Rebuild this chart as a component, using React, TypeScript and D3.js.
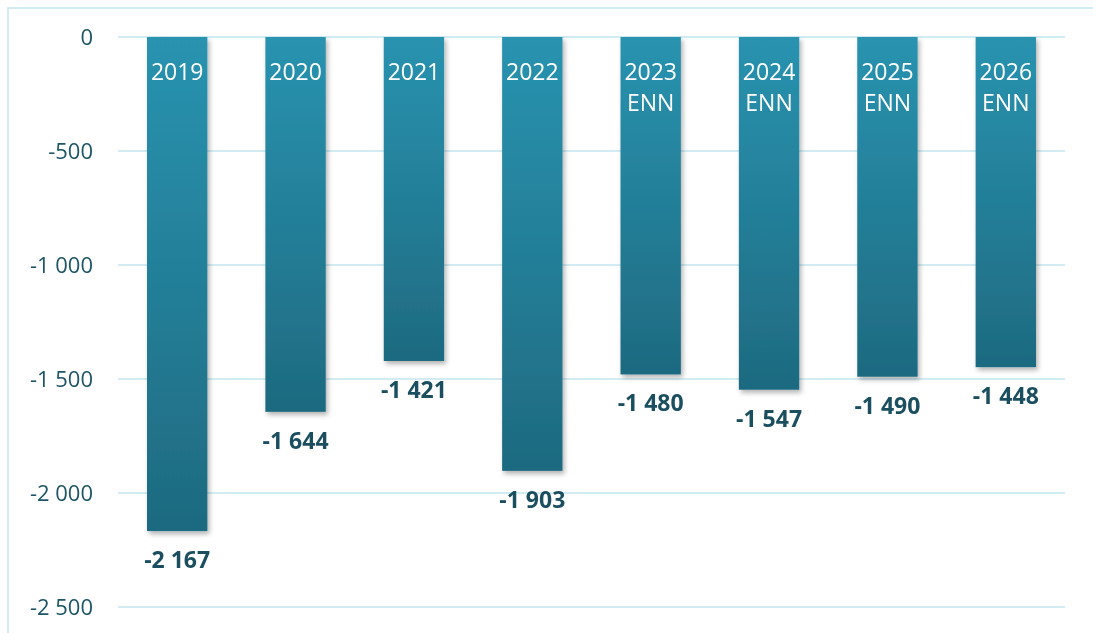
import { useEffect, useRef } from "react";
import * as d3 from "d3";

const categories = ["2019", "2020", "2021", "2022", "2023", "2024", "2025", "2026"];
const subLabels = ["", "", "", "", "ENN", "ENN", "ENN", "ENN"];
const values = [-2167, -1644, -1421, -1903, -1480, -1547, -1490, -1448];
const yTicks = [0, -500, -1000, -1500, -2000, -2500];

const fmt = (v: number) => {
  const s = Math.abs(v).toString().replace(/\B(?=(\d{3})+(?!\d))/g, " ");
  return (v < 0 ? "-" : "") + s;
};

export default function App() {
  const svgRef = useRef<SVGSVGElement>(null);

  useEffect(() => {
    if (!svgRef.current) return;
    const width = 1093;
    const height = 633;
    const margin = { top: 37, left: 118, right: 28, bottom: 26 };

    const svg = d3.select(svgRef.current);
    svg.selectAll("*").remove();

    const defs = svg.append("defs");
    const grad = defs
      .append("linearGradient")
      .attr("id", "barGrad")
      .attr("x1", 0)
      .attr("y1", 0)
      .attr("x2", 0)
      .attr("y2", 1);
    grad.append("stop").attr("offset", "0%").attr("stop-color", "#2993b0");
    grad.append("stop").attr("offset", "100%").attr("stop-color", "#1e6a80");

    const filter = defs
      .append("filter")
      .attr("id", "shadow")
      .attr("x", "-20%")
      .attr("y", "-5%")
      .attr("width", "150%")
      .attr("height", "120%");
    filter
      .append("feDropShadow")
      .attr("dx", 2)
      .attr("dy", 3)
      .attr("stdDeviation", 2.5)
      .attr("flood-color", "#000")
      .attr("flood-opacity", 0.3);

    // Outer frame (only top and left edges are visible)
    svg
      .append("rect")
      .attr("x", 8)
      .attr("y", 8)
      .attr("width", width + 20)
      .attr("height", height + 20)
      .attr("fill", "none")
      .attr("stroke", "#d3ecf4")
      .attr("stroke-width", 2);

    const x = d3
      .scaleBand()
      .domain(categories)
      .range([margin.left, width - margin.right])
      .paddingInner(0.49)
      .paddingOuter(0.245);

    const y = d3.scaleLinear().domain([-2500, 0]).range([607, margin.top]);

    // Gridlines
    svg
      .append("g")
      .selectAll("line")
      .data(yTicks)
      .join("line")
      .attr("x1", margin.left)
      .attr("x2", width - margin.right)
      .attr("y1", (d) => y(d))
      .attr("y2", (d) => y(d))
      .attr("stroke", "#d3ecf4")
      .attr("stroke-width", 2);

    // Y tick labels
    svg
      .append("g")
      .selectAll("text")
      .data(yTicks)
      .join("text")
      .attr("x", 93)
      .attr("y", (d) => y(d))
      .attr("dy", "0.35em")
      .attr("text-anchor", "end")
      .attr("fill", "#1d5566")
      .attr("font-size", 22)
      .text((d) => fmt(d));

    // Bars
    svg
      .append("g")
      .selectAll("rect")
      .data(values)
      .join("rect")
      .attr("x", (_, i) => x(categories[i])!)
      .attr("y", y(0))
      .attr("width", x.bandwidth())
      .attr("height", (d) => y(d) - y(0))
      .attr("fill", "url(#barGrad)")
      .attr("filter", "url(#shadow)");

    // Category labels inside bars
    const cat = svg.append("g");
    categories.forEach((c, i) => {
      const cx = x(c)! + x.bandwidth() / 2;
      const t = cat
        .append("text")
        .attr("text-anchor", "middle")
        .attr("fill", "#ffffff")
        .attr("font-size", 23);
      t.append("tspan").attr("x", cx).attr("y", 80).text(c);
      if (subLabels[i]) t.append("tspan").attr("x", cx).attr("y", 111).text(subLabels[i]);
    });

    // Value labels below bars
    svg
      .append("g")
      .selectAll("text")
      .data(values)
      .join("text")
      .attr("x", (_, i) => x(categories[i])! + x.bandwidth() / 2)
      .attr("y", (d) => y(d) + 29)
      .attr("dy", "0.35em")
      .attr("text-anchor", "middle")
      .attr("fill", "#1b4f60")
      .attr("font-size", 23)
      .attr("font-weight", 700)
      .text((d) => fmt(d));
  }, []);

  return (
    <svg
      ref={svgRef}
      width={1093}
      height={633}
      style={{ position: "fixed", left: 0, top: 0, fontFamily: "'Open Sans', 'Noto Sans', sans-serif" }}
    />
  );
}
